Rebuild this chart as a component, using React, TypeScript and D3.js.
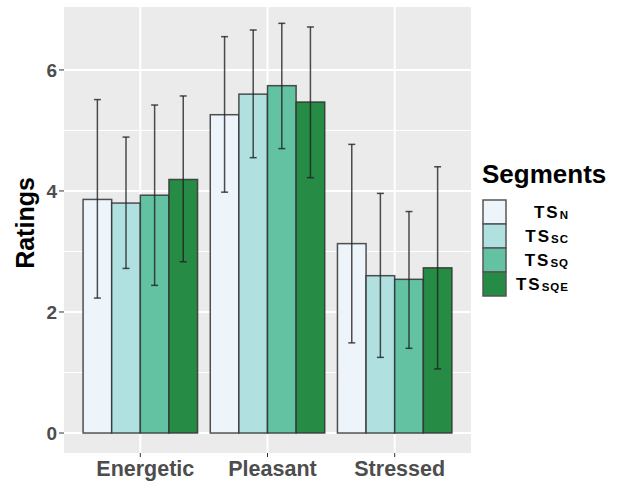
import { useEffect, useRef } from 'react';
import * as d3 from 'd3';

const categories = ["Energetic", "Pleasant", "Stressed"];
const segments = ["N", "SC", "SQ", "SQE"];
const segmentColors = ["#EDF5FB", "#B0E0DF", "#62C2A2", "#268B45"];

// mean ratings per segment (Energetic, Pleasant, Stressed)
const tsN = [3.86, 5.26, 3.13];
const tsSC = [3.80, 5.60, 2.60];
const tsSQ = [3.93, 5.74, 2.54];
const tsSQE = [4.19, 5.47, 2.73];

// error bar ends
const hiN = [5.51, 6.55, 4.77];
const hiSC = [4.89, 6.66, 3.96];
const hiSQ = [5.42, 6.77, 3.66];
const hiSQE = [5.57, 6.71, 4.40];
const loN = [2.23, 3.98, 1.49];
const loSC = [2.72, 4.55, 1.25];
const loSQ = [2.44, 4.70, 1.40];
const loSQE = [2.83, 4.22, 1.06];

const yTicks = [0, 2, 4, 6];
const yMinor = [1, 3, 5];

const means = [tsN, tsSC, tsSQ, tsSQE];
const highs = [hiN, hiSC, hiSQ, hiSQE];
const lows = [loN, loSC, loSQ, loSQE];

const FONT = "'Liberation Sans', Arial, Helvetica, sans-serif";

const drawChart = (node: SVGSVGElement) => {
  const svg = d3.select(node);
  svg.selectAll("*").remove();

  const panel = { left: 64, right: 471, top: 7, bottom: 453 };

  const y = d3.scaleLinear().domain([-0.33, 7.04]).range([panel.bottom, panel.top]);
  const x = d3.scaleBand<string>()
    .domain(categories)
    .range([panel.left, panel.right])
    .paddingInner(0.1)
    .paddingOuter(0.15);
  const xs = d3.scaleBand<string>().domain(segments).range([0, x.bandwidth()]);

  // panel
  svg.append("rect")
    .attr("x", panel.left).attr("y", panel.top)
    .attr("width", panel.right - panel.left).attr("height", panel.bottom - panel.top)
    .attr("fill", "#EBEBEB");

  svg.selectAll("line.minor").data(yMinor).enter().append("line")
    .attr("x1", panel.left).attr("x2", panel.right)
    .attr("y1", d => y(d)).attr("y2", d => y(d))
    .attr("stroke", "#fff").attr("stroke-width", 1);

  svg.selectAll("line.major").data(yTicks).enter().append("line")
    .attr("x1", panel.left).attr("x2", panel.right)
    .attr("y1", d => y(d)).attr("y2", d => y(d))
    .attr("stroke", "#fff").attr("stroke-width", 2);

  svg.selectAll("line.vmajor").data(categories).enter().append("line")
    .attr("x1", d => x(d)! + x.bandwidth() / 2).attr("x2", d => x(d)! + x.bandwidth() / 2)
    .attr("y1", panel.top).attr("y2", panel.bottom)
    .attr("stroke", "#fff").attr("stroke-width", 2);

  // bars
  const rows: any[] = [];
  categories.forEach((c, ci) => {
    segments.forEach((s, si) => {
      rows.push({ c, s, si, v: means[si][ci], hi: highs[si][ci], lo: lows[si][ci] });
    });
  });

  svg.selectAll("rect.bar").data(rows).enter().append("rect")
    .attr("x", d => x(d.c)! + xs(d.s)!)
    .attr("width", xs.bandwidth())
    .attr("y", d => y(d.v))
    .attr("height", d => y(0) - y(d.v))
    .attr("fill", d => segmentColors[d.si])
    .attr("stroke", "#333")
    .attr("stroke-opacity", 0.85)
    .attr("stroke-width", 1.5);

  // error bars
  const cap = 3.5;
  const eb = svg.selectAll("g.eb").data(rows).enter().append("g")
    .attr("stroke", "#222").attr("stroke-opacity", 0.8).attr("stroke-width", 1.5);
  const cx = (d: any) => x(d.c)! + xs(d.s)! + xs.bandwidth() / 2;
  eb.append("line").attr("x1", cx).attr("x2", cx).attr("y1", d => y(d.lo)).attr("y2", d => y(d.hi));
  eb.append("line").attr("x1", d => cx(d) - cap).attr("x2", d => cx(d) + cap).attr("y1", d => y(d.hi)).attr("y2", d => y(d.hi));
  eb.append("line").attr("x1", d => cx(d) - cap).attr("x2", d => cx(d) + cap).attr("y1", d => y(d.lo)).attr("y2", d => y(d.lo));

  // y axis
  const yAxis = svg.append("g");
  yAxis.selectAll("line").data(yTicks).enter().append("line")
    .attr("x1", 59).attr("x2", panel.left)
    .attr("y1", d => y(d)).attr("y2", d => y(d))
    .attr("stroke", "#333").attr("stroke-width", 1);
  yAxis.selectAll("text").data(yTicks).enter().append("text")
    .attr("x", 57).attr("y", d => y(d))
    .attr("dy", "0.36em")
    .attr("text-anchor", "end")
    .attr("font-family", FONT).attr("font-weight", "bold").attr("font-size", 19)
    .attr("fill", "#4D4D4D")
    .text(d => d);

  svg.append("text")
    .attr("transform", `translate(34, 223) rotate(-90)`)
    .attr("text-anchor", "middle")
    .attr("font-family", FONT).attr("font-weight", "bold").attr("font-size", 25)
    .attr("fill", "#000")
    .text("Ratings");

  // x axis
  const xAxis = svg.append("g");
  xAxis.selectAll("line").data(categories).enter().append("line")
    .attr("x1", d => x(d)! + x.bandwidth() / 2).attr("x2", d => x(d)! + x.bandwidth() / 2)
    .attr("y1", panel.bottom).attr("y2", panel.bottom + 4)
    .attr("stroke", "#333").attr("stroke-width", 1);
  xAxis.selectAll("text").data(categories).enter().append("text")
    .attr("x", d => x(d)! + x.bandwidth() / 2 + 5).attr("y", 476)
    .attr("text-anchor", "middle")
    .attr("font-family", FONT).attr("font-weight", "bold").attr("font-size", 21.5)
    .attr("fill", "#4D4D4D")
    .text(d => d);

  // legend
  const lg = svg.append("g");
  lg.append("text")
    .attr("x", 482).attr("y", 183)
    .attr("font-family", FONT).attr("font-weight", "bold").attr("font-size", 26)
    .attr("fill", "#000")
    .text("Segments");

  const keyH = 24;
  const items = lg.selectAll("g.item").data(segments).enter().append("g")
    .attr("transform", (d, i) => `translate(483, ${200 + i * keyH})`);
  items.append("rect")
    .attr("width", 23).attr("height", keyH)
    .attr("fill", (d, i) => segmentColors[i])
    .attr("stroke", "#555").attr("stroke-width", 1.5);
  const lbl = items.append("text")
    .attr("x", 86).attr("y", keyH / 2)
    .attr("dy", "0.36em")
    .attr("text-anchor", "end")
    .attr("font-family", FONT).attr("font-weight", "bold")
    .attr("fill", "#000");
  lbl.append("tspan").attr("font-size", 17).attr("letter-spacing", 2).text("TS");
  lbl.append("tspan").attr("font-size", 11.5).attr("dy", 1).attr("letter-spacing", 1).text(d => d);
};

const App = () => {
  const ref = useRef<SVGSVGElement>(null);
  useEffect(() => {
    if (ref.current) drawChart(ref.current);
  }, []);
  return (
    <svg ref={ref} width={622} height={483}
      style={{ position: "absolute", left: 0, top: 0, background: "#fff" }} />
  );
};

export default App;
